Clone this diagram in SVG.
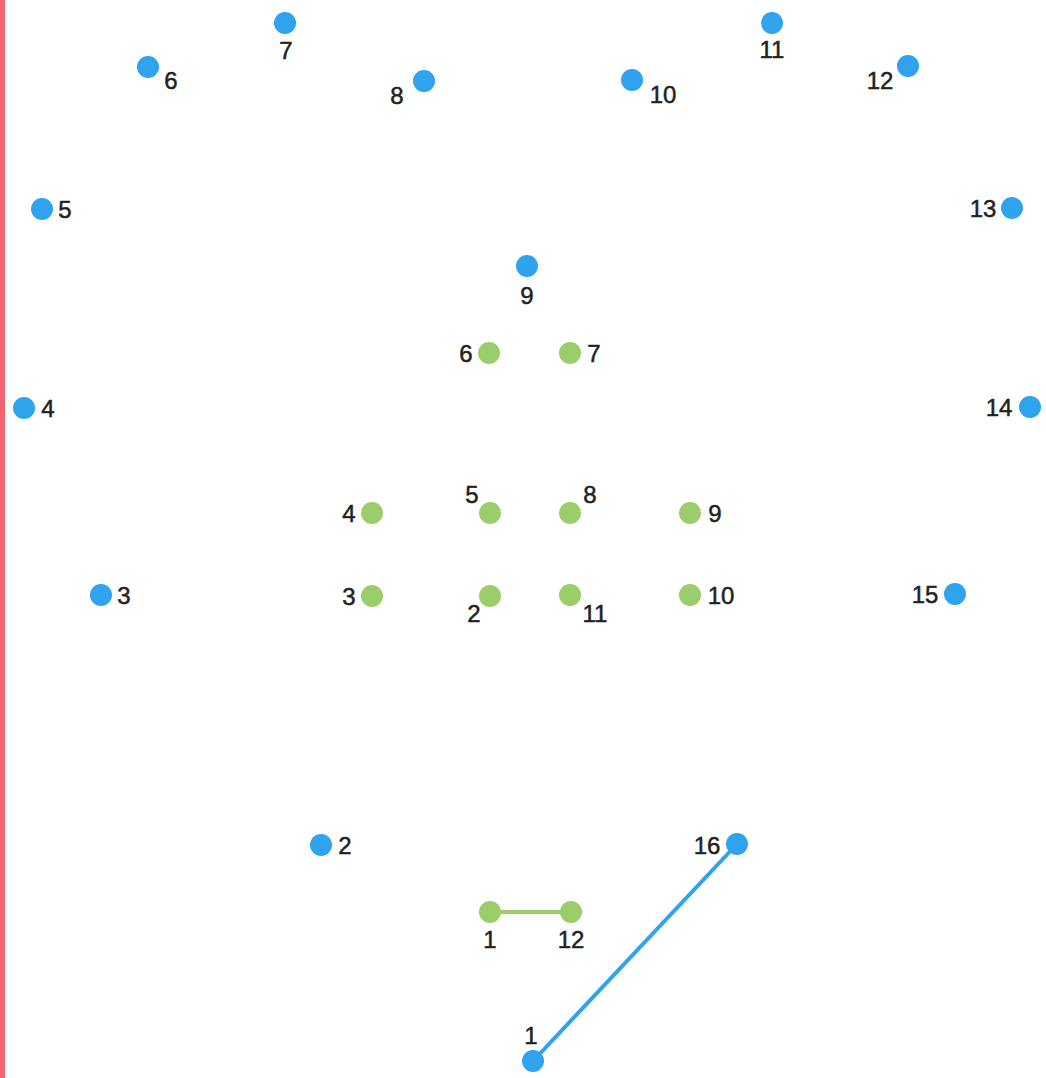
<svg xmlns="http://www.w3.org/2000/svg" width="1046" height="1078" viewBox="0 0 1046 1078">
<style>
.b{fill:#2fa3ee}
.g{fill:#9bcd6b}
text{font-family:"Liberation Sans",Arial,sans-serif;font-size:24px;fill:#222;stroke:#222;stroke-width:0.5;text-anchor:middle}
.cb{stroke:#2fa3ee;stroke-width:4;fill:none}
.cg{stroke:#9bcd6b;stroke-width:4;fill:none}
</style>
<rect width="1046" height="1078" fill="#fff"/>
<rect x="0" y="0" width="5" height="1078" fill="#f0646e"/>
<g id="connectors">
<line class="cg" x1="490" y1="912" x2="571" y2="912"/>
<line class="cb" x1="533" y1="1061" x2="737" y2="844"/>
</g>
<g id="b1"><circle class="b" cx="533" cy="1061" r="11"/><text x="531" y="1044">1</text></g>
<g id="b2"><circle class="b" cx="321" cy="845" r="11"/><text x="345" y="854">2</text></g>
<g id="b3"><circle class="b" cx="101" cy="595" r="11"/><text x="124" y="604">3</text></g>
<g id="b4"><circle class="b" cx="24" cy="408" r="11"/><text x="48" y="417">4</text></g>
<g id="b5"><circle class="b" cx="42" cy="209" r="11"/><text x="65" y="218">5</text></g>
<g id="b6"><circle class="b" cx="148" cy="67" r="11"/><text x="171" y="89">6</text></g>
<g id="b7"><circle class="b" cx="285" cy="23" r="11"/><text x="286" y="59">7</text></g>
<g id="b8"><circle class="b" cx="424" cy="81" r="11"/><text x="397" y="104">8</text></g>
<g id="b9"><circle class="b" cx="527" cy="266" r="11"/><text x="527" y="304">9</text></g>
<g id="b10"><circle class="b" cx="632" cy="80" r="11"/><text x="663" y="103">10</text></g>
<g id="b11"><circle class="b" cx="772" cy="23" r="11"/><text x="772" y="58">11</text></g>
<g id="b12"><circle class="b" cx="908" cy="66" r="11"/><text x="880" y="89">12</text></g>
<g id="b13"><circle class="b" cx="1012" cy="208" r="11"/><text x="983" y="217">13</text></g>
<g id="b14"><circle class="b" cx="1030" cy="407" r="11"/><text x="999" y="416">14</text></g>
<g id="b15"><circle class="b" cx="955" cy="594" r="11"/><text x="925" y="603">15</text></g>
<g id="b16"><circle class="b" cx="737" cy="844" r="11"/><text x="707" y="854">16</text></g>
<g id="g1"><circle class="g" cx="490" cy="912" r="11"/><text x="490" y="948">1</text></g>
<g id="g2"><circle class="g" cx="490" cy="596" r="11"/><text x="474" y="622">2</text></g>
<g id="g3"><circle class="g" cx="372" cy="596" r="11"/><text x="349" y="605">3</text></g>
<g id="g4"><circle class="g" cx="372" cy="513" r="11"/><text x="349" y="522">4</text></g>
<g id="g5"><circle class="g" cx="490" cy="513" r="11"/><text x="472" y="503">5</text></g>
<g id="g6"><circle class="g" cx="489" cy="353" r="11"/><text x="466" y="362">6</text></g>
<g id="g7"><circle class="g" cx="570" cy="353" r="11"/><text x="594" y="362">7</text></g>
<g id="g8"><circle class="g" cx="570" cy="513" r="11"/><text x="590" y="503">8</text></g>
<g id="g9"><circle class="g" cx="690" cy="513" r="11"/><text x="715" y="522">9</text></g>
<g id="g10"><circle class="g" cx="690" cy="595" r="11"/><text x="721" y="604">10</text></g>
<g id="g11"><circle class="g" cx="570" cy="595" r="11"/><text x="595" y="622">11</text></g>
<g id="g12"><circle class="g" cx="571" cy="912" r="11"/><text x="571" y="948">12</text></g>
</svg>
